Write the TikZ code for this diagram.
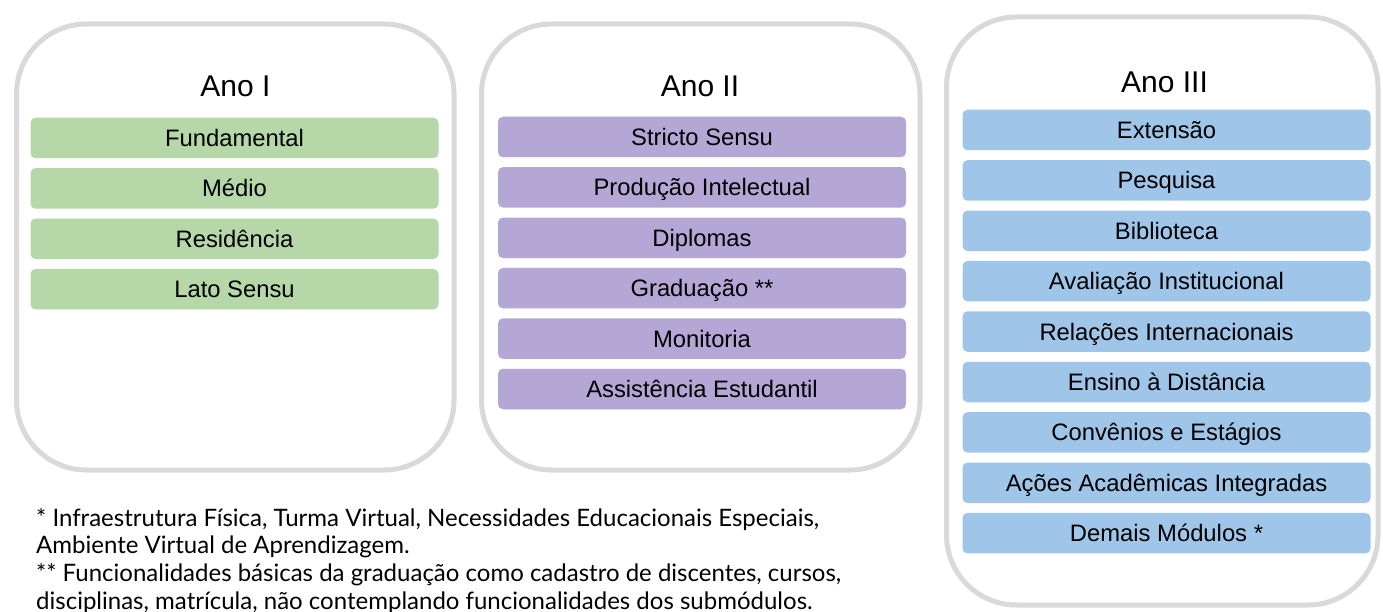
\documentclass[tikz,border=0pt]{standalone}
\usepackage{fontspec}
\setmainfont{Liberation Sans}
\newfontfamily\notafonte{Lato}
\usetikzlibrary{positioning}
\definecolor{anoverde}{HTML}{B6D7A8}
\definecolor{anoroxo}{HTML}{B4A7D6}
\definecolor{anoazul}{HTML}{9FC5E8}
\definecolor{molduracinza}{HTML}{D9D9D9}
\begin{document}
\begin{tikzpicture}[x=1pt,y=-1pt,node distance=9.5pt,
  moldura/.style={draw=molduracinza,line width=5pt,rounded corners=70pt,fill=white,inner sep=0pt},
  titulo/.style={inner sep=0pt,text height=21.5pt,text depth=0pt,font=\fontsize{30}{33}\selectfont},
  modulo/.style={rectangle,rounded corners=5pt,minimum width=408pt,minimum height=40.5pt,
    inner sep=0pt,text height=17pt,text depth=0pt,font=\fontsize{23.8}{26}\selectfont},
  verde/.style={modulo,fill=anoverde},
  roxo/.style={modulo,fill=anoroxo},
  azul/.style={modulo,fill=anoazul}]
\clip (0,0) rectangle (1383,612);
\fill[white] (0,0) rectangle (1383,612);
% molduras dos anos
\node[moldura,minimum width=437.5pt,minimum height=446pt] (ano1) at (235.25,247) {};
\node[moldura,minimum width=438.5pt,minimum height=446pt] (ano2) at (700.75,247) {};
\node[moldura,minimum width=431.5pt,minimum height=588pt] (ano3) at (1162.25,311) {};
\node[titulo] (t1) at (235.5,86) {Ano I};
\node[titulo] (t2) at (700,86) {Ano II};
\node[titulo] (t3) at (1164.5,82) {Ano III};
% Ano I
\node[verde] (fund) at (234.5,138) {Fundamental};
\node[verde,below=of fund] (medio) {Médio};
\node[verde,below=of medio] (resid) {Residência};
\node[verde,below=of resid] (lato) {Lato Sensu};
% Ano II
\node[roxo] (stricto) at (702,137) {Stricto Sensu};
\node[roxo,below=of stricto] (prod) {Produção Intelectual};
\node[roxo,below=of prod] (dipl) {Diplomas};
\node[roxo,below=of dipl] (grad) {Graduação **};
\node[roxo,below=of grad] (monit) {Monitoria};
\node[roxo,below=of monit] (assist) {Assistência Estudantil};
% Ano III
\node[azul] (ext) at (1166.5,130) {Extensão};
\node[azul,below=of ext] (pesq) {Pesquisa};
\node[azul,below=of pesq] (bibl) {Biblioteca};
\node[azul,below=of bibl] (aval) {Avaliação Institucional};
\node[azul,below=of aval] (rel) {Relações Internacionais};
\node[azul,below=of rel] (ead) {Ensino à Distância};
\node[azul,below=of ead] (conv) {Convênios e Estágios};
\node[azul,below=of conv] (acoes) {Ações Acadêmicas Integradas};
\node[azul,below=of acoes] (demais) {Demais Módulos *};
% notas
\node[anchor=north west,inner sep=0pt,align=left,font=\notafonte\fontsize{24}{27.7}\selectfont] (notas) at (36,508)
  {* Infraestrutura Física, Turma Virtual, Necessidades Educacionais Especiais,\\
   Ambiente Virtual de Aprendizagem.\\
   ** Funcionalidades básicas da graduação como cadastro de discentes, cursos,\\
   disciplinas, matrícula, não contemplando funcionalidades dos submódulos.};
\end{tikzpicture}
\end{document}
